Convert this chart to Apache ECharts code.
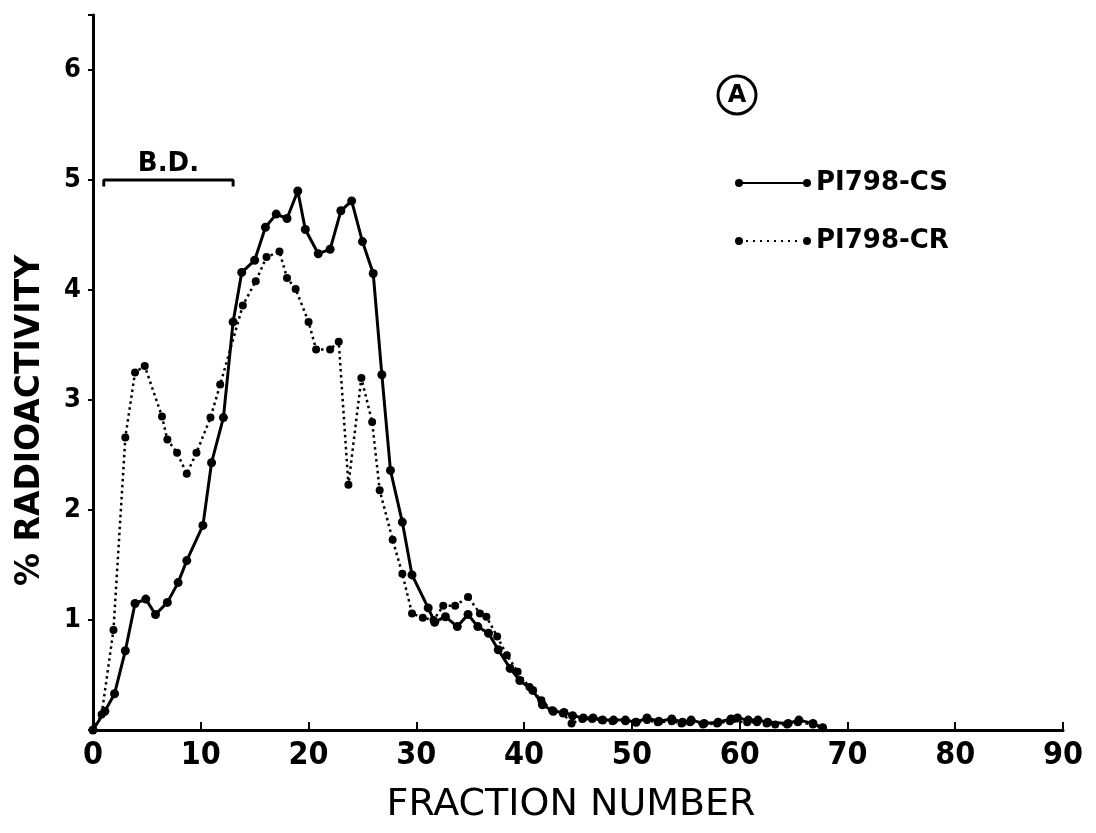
<!DOCTYPE html>
<html>
<head>
<meta charset="utf-8">
<script src="https://cdn.jsdelivr.net/npm/echarts@6/dist/echarts.min.js"></script>
<style>
  html, body { margin: 0; padding: 0; background: #fff; }
  #chart { width: 1096px; height: 833px; }
</style>
</head>
<body>
<div id="chart"></div>
<script>
// [fraction number, % radioactivity]
const csData = [
  [0, 0], [1.1, 0.17], [2.0, 0.33], [3.0, 0.72], [3.9, 1.15], [4.9, 1.19], [5.8, 1.05],
  [6.9, 1.16], [7.9, 1.34], [8.7, 1.54], [10.2, 1.86], [11.0, 2.43], [12.1, 2.84],
  [13.0, 3.71], [13.8, 4.16], [15.0, 4.27], [16.0, 4.57], [17.0, 4.69], [18.0, 4.65],
  [19.0, 4.90], [19.7, 4.55], [20.9, 4.33], [22.0, 4.37], [23.0, 4.72], [24.0, 4.81],
  [25.0, 4.44], [26.0, 4.15], [26.8, 3.23], [27.6, 2.36], [28.7, 1.89], [29.6, 1.41],
  [31.1, 1.11], [31.7, 0.98], [32.7, 1.03], [33.8, 0.94], [34.8, 1.05], [35.7, 0.94],
  [36.7, 0.88], [37.6, 0.73], [38.7, 0.56], [39.6, 0.45], [40.8, 0.36], [41.7, 0.23],
  [42.7, 0.17], [43.7, 0.16], [44.5, 0.13], [45.5, 0.11], [46.4, 0.11], [47.3, 0.09],
  [48.3, 0.09], [49.4, 0.09], [50.4, 0.07], [51.4, 0.11], [52.5, 0.08], [53.7, 0.10],
  [54.7, 0.07], [55.5, 0.09], [56.7, 0.06], [58.0, 0.07], [59.2, 0.10], [59.8, 0.11],
  [60.8, 0.09], [61.7, 0.09], [62.6, 0.07], [64.5, 0.06], [65.5, 0.09], [66.8, 0.06],
  [67.7, 0.02]
]
const crData = [
  [0, 0], [0.8, 0.14], [1.9, 0.91], [3.0, 2.66], [3.9, 3.25], [4.8, 3.31], [6.4, 2.85],
  [6.9, 2.64], [7.8, 2.52], [8.7, 2.33], [9.6, 2.52], [10.9, 2.84], [11.8, 3.14],
  [13.9, 3.86], [15.1, 4.08], [16.1, 4.30], [17.3, 4.35], [18.0, 4.11], [18.8, 4.01],
  [20.0, 3.71], [20.7, 3.46], [22.0, 3.46], [22.8, 3.53], [23.7, 2.23], [24.9, 3.20],
  [25.9, 2.80], [26.6, 2.18], [27.8, 1.73], [28.7, 1.42], [29.6, 1.06], [30.6, 1.02],
  [31.6, 1.00], [32.5, 1.13], [33.6, 1.13], [34.8, 1.21], [35.9, 1.06], [36.5, 1.03],
  [37.5, 0.85], [38.4, 0.68], [39.4, 0.53], [40.5, 0.39], [41.6, 0.27], [42.6, 0.18],
  [43.6, 0.15], [44.4, 0.06], [45.4, 0.10], [46.3, 0.10], [47.2, 0.09], [48.2, 0.08],
  [49.4, 0.08], [50.3, 0.07], [51.4, 0.09], [52.4, 0.07], [53.7, 0.08], [54.6, 0.06],
  [55.4, 0.07], [56.6, 0.05], [57.9, 0.06], [59.1, 0.08], [60.7, 0.07], [61.6, 0.07],
  [62.5, 0.06], [63.3, 0.05], [64.4, 0.05], [65.4, 0.07], [66.8, 0.05], [67.7, 0.02]
]
// B.D. bracket (fractions 1 to 13), label sits on the middle point
const bdBracket = [[1, 4.94], [1, 5.0], [7, 5.0], [13, 5.0], [13, 4.94]]
const bdLabel = 'B.D.'

const seriesNames = ['PI798-CS', 'PI798-CR']

const FONT = '"DejaVu Sans", sans-serif'
const FONT_C = '"DejaVu Sans Condensed", "DejaVu Sans", sans-serif'

const solidIcon = 'path://M0,5 A4,4 0 1,1 8,5 A4,4 0 1,1 0,5 Z M7,4 L69,4 L69,6 L7,6 Z M68,5 A4,4 0 1,1 76,5 A4,4 0 1,1 68,5 Z'
let dots = ''
for (let x = 11; x < 66; x += 7) dots += `M${x},4 L${x + 2},4 L${x + 2},6 L${x},6 Z `
const dottedIcon = 'path://M0,5 A4,4 0 1,1 8,5 A4,4 0 1,1 0,5 Z ' + dots + 'M68,5 A4,4 0 1,1 76,5 A4,4 0 1,1 68,5 Z'

const chart = echarts.init(document.getElementById('chart'))

const option = {
  backgroundColor: '#fff',
  animation: false,
  grid: { left: 93, right: 33, top: 15, bottom: 103 },
  legend: {
    orient: 'vertical',
    left: 730,
    top: 165,
    itemWidth: 76,
    itemHeight: 10,
    itemGap: 32,
    data: [
      { name: seriesNames[0], icon: solidIcon },
      { name: seriesNames[1], icon: dottedIcon }
    ],
    textStyle: { fontFamily: FONT, fontWeight: 'bold', fontSize: 26, color: '#000' }
  },
  graphic: [
    {
      type: 'circle',
      shape: { cx: 737, cy: 95, r: 19 },
      style: { fill: '#fff', stroke: '#000', lineWidth: 3 }
    },
    {
      type: 'text',
      x: 737, y: 96,
      style: {
        text: 'A', fill: '#000', font: 'bold 24px ' + FONT,
        align: 'center', verticalAlign: 'middle'
      }
    }
  ],
  xAxis: {
    type: 'value',
    min: 0, max: 90, interval: 10,
    name: 'FRACTION NUMBER',
    nameLocation: 'middle',
    nameGap: 56,
    nameTextStyle: { fontFamily: FONT, fontSize: 38, color: '#000', padding: [0, 14, 0, 0] },
    axisLine: { lineStyle: { color: '#000', width: 3 } },
    axisTick: { inside: true, length: 8, lineStyle: { color: '#000', width: 2 } },
    axisLabel: { fontFamily: FONT_C, fontWeight: 'bold', fontSize: 32, color: '#000', margin: 10 },
    splitLine: { show: false }
  },
  yAxis: {
    type: 'value',
    min: 0, max: 6.5, interval: 1,
    name: '% RADIOACTIVITY',
    nameLocation: 'middle',
    nameGap: 46,
    nameTextStyle: {
      fontFamily: FONT, fontWeight: 'bold', fontSize: 33, color: '#000',
      padding: [0, 96, 0, 0]
    },
    axisLine: { lineStyle: { color: '#000', width: 3 } },
    axisTick: { length: 5, lineStyle: { color: '#000', width: 2 } },
    axisLabel: {
      fontFamily: FONT_C, fontWeight: 'bold', fontSize: 27, color: '#000', margin: 12,
      formatter: v => (v === 0 || v % 1 !== 0) ? '' : String(v)
    },
    splitLine: { show: false }
  },
  series: [
    {
      name: seriesNames[0],
      type: 'line',
      data: csData,
      symbol: 'circle',
      symbolSize: 9,
      itemStyle: { color: '#000' },
      lineStyle: { color: '#000', width: 3 },
      z: 3
    },
    {
      name: seriesNames[1],
      type: 'line',
      data: crData,
      symbol: 'circle',
      symbolSize: 8,
      itemStyle: { color: '#000' },
      lineStyle: { color: '#000', width: 2.5, type: [2.5, 3.5] },
      z: 2
    },
    {
      name: bdLabel,
      type: 'line',
      data: bdBracket,
      symbol: 'circle',
      symbolSize: 0,
      showAllSymbol: true,
      lineStyle: { color: '#000', width: 3 },
      label: {
        show: true, position: 'top', distance: 3,
        formatter: p => (p.dataIndex === 2 ? bdLabel : ''),
        fontFamily: FONT, fontWeight: 'bold', fontSize: 26, color: '#000'
      }
    }
  ]
}

chart.setOption(option)
</script>
</body>
</html>
